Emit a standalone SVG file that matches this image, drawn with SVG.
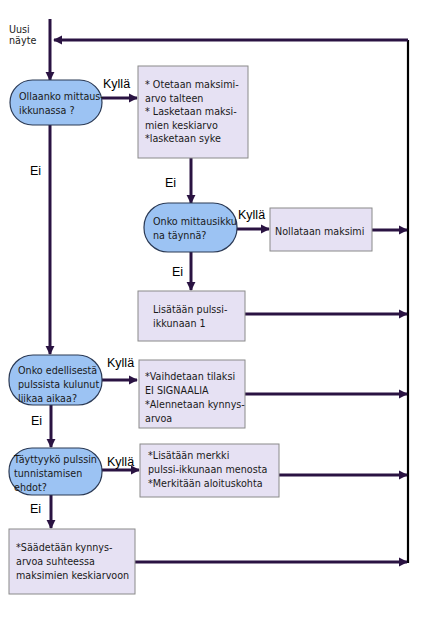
<svg xmlns="http://www.w3.org/2000/svg" width="435" height="617" viewBox="0 0 435 617">
<style>
.oval{fill:#9cc3f3;stroke:#2b3a55;stroke-width:1.2}
.box{fill:#e6e1f3;stroke:#8a8a8a;stroke-width:1}
.t{font-family:"DejaVu Sans",Verdana,sans-serif;font-size:9.6px;fill:#1a1a1a}
.lbl{font-family:"Liberation Sans",Arial,sans-serif;font-size:12.5px;fill:#000}
.c{stroke:#2a1342;stroke-width:3;fill:none}
.r{stroke:#000;stroke-width:2.2;fill:none}
</style>
<defs>
<marker id="ah" viewBox="0 0 10 10" refX="9" refY="5" markerWidth="3" markerHeight="3.6" orient="auto" markerUnits="strokeWidth">
<path d="M0,0 L10,5 L0,10 z" fill="#2a1342"/>
</marker>
</defs>
<rect width="435" height="617" fill="#fff"/>
<g id="connectors">
<line class="r" x1="408" y1="40" x2="408" y2="563"/>
<line class="c" x1="408" y1="40" x2="54" y2="40" marker-end="url(#ah)"/>
<line class="c" x1="50" y1="19" x2="50" y2="80" marker-end="url(#ah)"/>
<line class="c" x1="102" y1="98" x2="137" y2="98" marker-end="url(#ah)"/>
<line class="c" x1="50" y1="125" x2="50" y2="354" marker-end="url(#ah)"/>
<line class="c" x1="191" y1="158" x2="191" y2="203" marker-end="url(#ah)"/>
<line class="c" x1="237" y1="229" x2="269" y2="229" marker-end="url(#ah)"/>
<line class="c" x1="372" y1="230" x2="407" y2="230" marker-end="url(#ah)"/>
<line class="c" x1="191" y1="252" x2="191" y2="290" marker-end="url(#ah)"/>
<line class="c" x1="245" y1="314" x2="407" y2="314" marker-end="url(#ah)"/>
<line class="c" x1="102" y1="380" x2="137" y2="380" marker-end="url(#ah)"/>
<line class="c" x1="245" y1="394" x2="407" y2="394" marker-end="url(#ah)"/>
<line class="c" x1="51" y1="405" x2="51" y2="447" marker-end="url(#ah)"/>
<line class="c" x1="102" y1="470" x2="139" y2="470" marker-end="url(#ah)"/>
<line class="c" x1="279" y1="475" x2="407" y2="475" marker-end="url(#ah)"/>
<line class="c" x1="51" y1="495" x2="51" y2="528" marker-end="url(#ah)"/>
<line class="c" x1="135" y1="562" x2="407" y2="562" marker-end="url(#ah)"/>
</g>
<g id="start">
<text class="t" x="9" y="33">Uusi</text>
<text class="t" x="9" y="44">näyte</text>
</g>
<g id="d1">
<rect class="oval" x="10" y="80" width="92" height="45" rx="22.5"/>
<text class="t" x="19" y="100">Ollaanko mittaus-</text>
<text class="t" x="19" y="114">ikkunassa ?</text>
</g>
<g id="p1">
<rect class="box" x="138" y="66" width="110" height="92"/>
<text class="t" x="145" y="88">* Otetaan maksimi-</text>
<text class="t" x="145" y="102">arvo talteen</text>
<text class="t" x="145" y="115">* Lasketaan maksi-</text>
<text class="t" x="145" y="129">mien keskiarvo</text>
<text class="t" x="145" y="142">*lasketaan syke</text>
</g>
<g id="d2">
<rect class="oval" x="144" y="203" width="93" height="49" rx="24"/>
<text class="t" x="153" y="225">Onko mittausikku</text>
<text class="t" x="153" y="239">na täynnä?</text>
</g>
<g id="p2">
<rect class="box" x="270" y="208" width="102" height="43"/>
<text class="t" x="275" y="235">Nollataan maksimi</text>
</g>
<g id="p3">
<rect class="box" x="138" y="291" width="107" height="50"/>
<text class="t" x="153" y="313">Lisätään pulssi-</text>
<text class="t" x="153" y="327">ikkunaan 1</text>
</g>
<g id="d3">
<rect class="oval" x="9" y="355" width="93" height="50" rx="24"/>
<text class="t" x="18" y="374">Onko edellisestä</text>
<text class="t" x="18" y="388">pulssista kulunut</text>
<text class="t" x="18" y="402">liikaa aikaa?</text>
</g>
<g id="p4">
<rect class="box" x="139" y="360" width="106" height="68"/>
<text class="t" x="145" y="380">*Vaihdetaan tilaksi</text>
<text class="t" x="145" y="394">EI SIGNAALIA</text>
<text class="t" x="145" y="408">*Alennetaan kynnys-</text>
<text class="t" x="145" y="422">arvoa</text>
</g>
<g id="d4">
<rect class="oval" x="9" y="448" width="93" height="47" rx="23"/>
<text class="t" x="14" y="463">Täyttyykö pulssin</text>
<text class="t" x="14" y="477">tunnistamisen</text>
<text class="t" x="14" y="491">ehdot?</text>
</g>
<g id="p5">
<rect class="box" x="140" y="444" width="139" height="53"/>
<text class="t" x="148" y="459">*Lisätään merkki</text>
<text class="t" x="148" y="473">pulssi-ikkunaan menosta</text>
<text class="t" x="148" y="487">*Merkitään aloituskohta</text>
</g>
<g id="p6">
<rect class="box" x="9" y="529" width="126" height="65"/>
<text class="t" x="16" y="551">*Säädetään kynnys-</text>
<text class="t" x="16" y="565">arvoa suhteessa</text>
<text class="t" x="16" y="579">maksimien keskiarvoon</text>
</g>
<g id="labels">
<text class="lbl" x="103" y="88">Kyllä</text>
<text class="lbl" x="30" y="175">Ei</text>
<text class="lbl" x="165" y="187">Ei</text>
<text class="lbl" x="238" y="219">Kyllä</text>
<text class="lbl" x="172" y="276">Ei</text>
<text class="lbl" x="107" y="367">Kyllä</text>
<text class="lbl" x="31" y="425">Ei</text>
<text class="lbl" x="107" y="466">Kyllä</text>
<text class="lbl" x="30" y="513">Ei</text>
</g>
</svg>
